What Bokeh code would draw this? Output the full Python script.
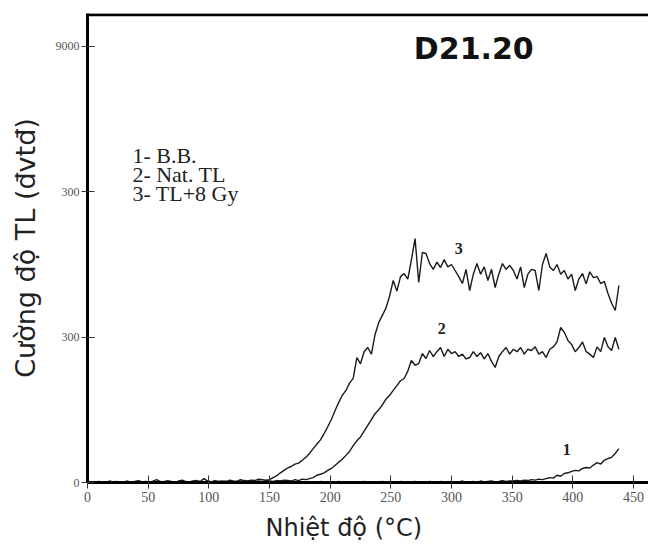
from bokeh.plotting import figure
from bokeh.models import Range1d, FixedTicker, Span, Label, Title
from bokeh.embed import file_html
from bokeh.resources import INLINE

# Temperature grid (°C)
temp = list(range(0, 441, 3))

# Curve 1: B.B.
bb_low = [0,10,0,0,10,0,0,0,10,0, 0,0,10,0,0,0,10,0,0,0, 10,0,0,0,10,0,0,10,0,0,
          0,10,0,0,0,10,0,0,10,0, 0,0,10,0,20,0,0,10,0,0, 10,0,0,20,0,10,0,0,10,0,
          0,10,0,0,20,0,0,10,0,20, 0,10,0,0,10,0,20,0,0,10, 0,20,0,10,0,0,20,0,10,0,
          20,0,10,0,20,10,0,20,0,10, 20,0,10,30,0,10,20,0,30,10, 20,30,10,20,40,20,30]
bb_high = [30,40,30,50,40,60,50,70,60,80, 100,90,150,130,185,200,230,250,240,290,
           310,300,360,410,380,460,495,520,600,700]
bb = bb_low + bb_high

# Curve 2: Nat. TL
nat_low = [0,0,10,0,0,10,0,0,0,10, 0,10,0,0,20,0,10,0,0,10, 0,20,10,0,0,10,20,0,10,0,
           20,10,0,30,10,0,20,10,30,0, 10,20,30,10,20,40,10,30,20,40, 30,20,40,30,50,40,30,60,40,70, 60]
nat_high = [80,100,150,170,200,250,290,350,420,480,
            560,640,760,860,940,1060,1180,1300,1420,1500,
            1600,1720,1800,1900,2000,2100,2147,2300,2518,2420,
            2456,2662,2560,2725,2600,2700,2786,2600,2750,2662,
            2700,2600,2650,2550,2580,2700,2600,2680,2550,2662,
            2500,2374,2600,2700,2786,2650,2750,2700,2786,2650,
            2750,2725,2800,2650,2700,2580,2750,2800,2900,3200,
            3100,2930,2850,2700,2786,2900,2700,2650,2580,2800,
            2700,2993,2800,2725,2993,2750]
nat = nat_low + nat_high

# Curve 3: TL + 8 Gy
gy_low = [0,10,0,20,10,0,30,10,20,0, 10,30,0,20,40,10,20,0,30,60,
          20,10,40,20,0,30,50,20,10,30, 40,20,80,30,10,40,20,30,10,50,
          30,20,60,40,30,50,40,70,60,50]
gy_high = [60,100,140,200,250,300,330,380,400,460,
           520,600,700,790,880,1010,1150,1300,1480,1650,
           1800,1900,2050,2150,2580,2450,2700,2786,2650,3050,
           3300,3450,3600,3850,4170,3950,4250,4313,4200,4600,
           5036,4128,4747,4726,4520,4400,4550,4438,4600,4450,
           4500,4376,4250,4107,4400,3963,4300,4520,4300,4450,
           4170,4400,4025,4300,4520,4400,4480,4376,4200,4450,
           4025,4300,4400,4376,3963,4500,4726,4450,4376,4500,
           4300,4376,4200,4300,3963,4200,4313,4100,4350,4230,
           4250,4107,4150,3900,3700,3550,4066]
gy = gy_low + gy_high

x_ticks = [0, 50, 100, 150, 200, 250, 300, 350, 400, 450]
y_ticks = [0, 3000, 6000, 9000]
y_tick_labels = {0: "0", 3000: "300", 6000: "300", 9000: "9000"}

legend_lines = ["1- B.B.", "2- Nat. TL", "3- TL+8 Gy"]
legend_y = [6749, 6357, 5965]
curve_tags = ["1", "2", "3"]
curve_tag_x = [395, 292, 306]
curve_tag_y = [681, 3179, 4830]

p = figure(width=648, height=554, output_backend="svg", toolbar_location=None,
           x_range=Range1d(0, 462.4), y_range=Range1d(0, 9681),
           min_border_left=87, min_border_right=0, min_border_top=13, min_border_bottom=72)
p.outline_line_color = None
p.grid.visible = False
p.background_fill_color = "white"
p.border_fill_color = "white"

for series in (bb, nat, gy):
    p.line(temp, series, line_color="#1a1a1a", line_width=1.4)

# axes
p.xaxis.ticker = FixedTicker(ticks=x_ticks)
p.yaxis.ticker = FixedTicker(ticks=y_ticks)
p.yaxis.major_label_overrides = y_tick_labels
for ax in (p.xaxis, p.yaxis):
    ax.axis_line_width = 3
    ax.axis_line_color = "black"
    ax.major_tick_line_color = "#333333"
    ax.major_tick_line_width = 1
    ax.major_tick_in = 7
    ax.major_tick_out = 6
    ax.minor_tick_line_color = None
    ax.major_label_text_font = "Liberation Serif"
    ax.major_label_text_font_size = "14px"
    ax.major_label_text_color = "#555555"
    ax.axis_label_text_font = "DejaVu Sans"
    ax.axis_label_text_font_style = "normal"
    ax.axis_label_text_color = "#222222"
p.yaxis.major_label_text_font_size = "12px"
p.yaxis.major_label_standoff = 2
p.xaxis.major_label_standoff = 3
p.yaxis.axis_label = "Cường độ TL (đvtđ)"
p.yaxis.axis_label_text_font_size = "27px"
p.yaxis.axis_label_standoff = 12

# x-axis title, placed under the axis as in the original
p.add_layout(Title(text="Nhiệt độ (°C)", align="left", offset=178, standoff=14,
                   text_font="DejaVu Sans", text_font_style="normal",
                   text_font_size="24px", text_color="#222222"), "below")

# top frame line
p.add_layout(Span(location=9655, dimension="width", line_color="black", line_width=3))

# title
p.add_layout(Label(x=269, y=8958, text="D21.20", text_font="DejaVu Sans",
                   text_font_style="bold", text_font_size="30px", text_color="#111111",
                   text_baseline="middle", text_align="left"))

for txt, yy in zip(legend_lines, legend_y):
    p.add_layout(Label(x=37, y=yy, text=txt, text_font="Liberation Serif",
                       text_font_size="22px", text_color="#222222",
                       text_baseline="middle", text_align="left"))

for txt, xx, yy in zip(curve_tags, curve_tag_x, curve_tag_y):
    p.add_layout(Label(x=xx, y=yy, text=txt, text_font="Liberation Serif",
                       text_font_style="bold", text_font_size="16px", text_color="#222222",
                       text_baseline="middle", text_align="center"))

open("out.html", "w").write(file_html(p, INLINE))
